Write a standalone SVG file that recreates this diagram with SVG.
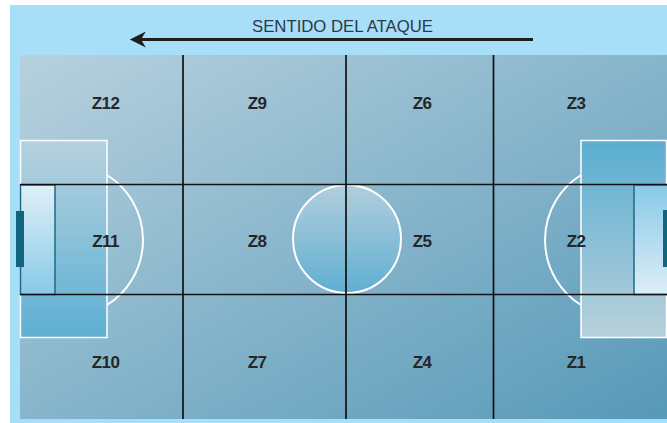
<svg xmlns="http://www.w3.org/2000/svg" width="667" height="423" viewBox="0 0 667 423">
<defs>
<linearGradient id="field" x1="0" y1="0" x2="1" y2="1">
<stop offset="0" stop-color="#b7d1de"/>
<stop offset="1" stop-color="#5799b8"/>
</linearGradient>
<linearGradient id="boxL" x1="0" y1="0" x2="0" y2="1">
<stop offset="0" stop-color="#b6d1de"/>
<stop offset="1" stop-color="#5db0d4"/>
</linearGradient>
<linearGradient id="boxR" x1="0" y1="0" x2="0" y2="1">
<stop offset="0" stop-color="#5aaed1"/>
<stop offset="1" stop-color="#b8d0db"/>
</linearGradient>
<linearGradient id="circ" x1="0" y1="0" x2="0" y2="1">
<stop offset="0" stop-color="#b2cedc"/>
<stop offset="1" stop-color="#60afd2"/>
</linearGradient>
<linearGradient id="goalL" x1="0" y1="0" x2="0" y2="1">
<stop offset="0" stop-color="#def0f8"/>
<stop offset="1" stop-color="#88c8e7"/>
</linearGradient>
<linearGradient id="goalR" x1="0" y1="0" x2="0" y2="1">
<stop offset="0" stop-color="#88c9e8"/>
<stop offset="1" stop-color="#ddeef6"/>
</linearGradient>
<marker id="head" viewBox="0 0 10 10" refX="8" refY="5" markerWidth="5.5" markerHeight="5" orient="auto" markerUnits="strokeWidth">
<path d="M10,5 L0,0 L3,5 L0,10 Z" fill="#1e1e1e"/>
</marker>
</defs>
<style>
.lbl{font-family:"Liberation Sans",Arial,sans-serif;font-weight:bold;font-size:17px;fill:#262626;text-anchor:middle;letter-spacing:-0.6px}
.white{fill:none;stroke:#ffffff;stroke-width:2}
.grid{stroke:#111111;stroke-width:1.7;fill:none}
.goal{stroke:#1d6a85;stroke-width:1.5}
.post{fill:#12657f}
</style>
<rect x="10" y="5" width="657" height="418" fill="#a6dff7"/>
<g id="title">
<text x="342.5" y="32" font-family="Liberation Sans, Arial, sans-serif" font-size="17" fill="#2d3848" text-anchor="middle" textLength="181" lengthAdjust="spacingAndGlyphs">SENTIDO DEL ATAQUE</text>
</g>
<g id="field">
<rect x="20" y="55" width="647" height="364" fill="url(#field)"/>
<rect x="20.5" y="140.5" width="86.5" height="197" fill="url(#boxL)" stroke="#ffffff" stroke-width="1.5"/>
<rect x="581" y="140.5" width="85.5" height="197" fill="url(#boxR)" stroke="#ffffff" stroke-width="1.5"/>
<path class="white" d="M107,175 A76.7,76.7 0 0 1 107,305"/>
<path class="white" d="M581,175 A76.7,76.7 0 0 0 581,305"/>
<circle cx="347" cy="239" r="54" fill="url(#circ)" stroke="#ffffff" stroke-width="2"/>
<rect class="goal" x="20.5" y="185" width="34.5" height="109.5" fill="url(#goalL)"/>
<rect class="goal" x="634" y="185" width="34" height="109.5" fill="url(#goalR)"/>
<rect class="post" x="16" y="211" width="8" height="56"/>
<rect class="post" x="663" y="210" width="5" height="57"/>
</g>
<g id="connectors">
<line x1="533" y1="39.5" x2="133" y2="39.5" stroke="#1e1e1e" stroke-width="3.2" marker-end="url(#head)"/>
<line class="grid" x1="183" y1="55" x2="183" y2="419"/>
<line class="grid" x1="346" y1="55" x2="346" y2="419"/>
<line class="grid" x1="493.5" y1="55" x2="493.5" y2="419"/>
<line class="grid" x1="20" y1="184.5" x2="667" y2="184.5"/>
<line class="grid" x1="20" y1="294.5" x2="667" y2="294.5"/>
</g>
<g id="z12"><text class="lbl" x="105.5" y="109">Z12</text></g>
<g id="z9"><text class="lbl" x="257" y="109">Z9</text></g>
<g id="z6"><text class="lbl" x="422" y="109">Z6</text></g>
<g id="z3"><text class="lbl" x="576" y="109">Z3</text></g>
<g id="z11"><text class="lbl" x="105.5" y="247">Z11</text></g>
<g id="z8"><text class="lbl" x="257" y="247">Z8</text></g>
<g id="z5"><text class="lbl" x="422" y="247">Z5</text></g>
<g id="z2"><text class="lbl" x="576" y="247">Z2</text></g>
<g id="z10"><text class="lbl" x="105.5" y="368">Z10</text></g>
<g id="z7"><text class="lbl" x="257" y="368">Z7</text></g>
<g id="z4"><text class="lbl" x="422" y="368">Z4</text></g>
<g id="z1"><text class="lbl" x="576" y="368">Z1</text></g>
</svg>
